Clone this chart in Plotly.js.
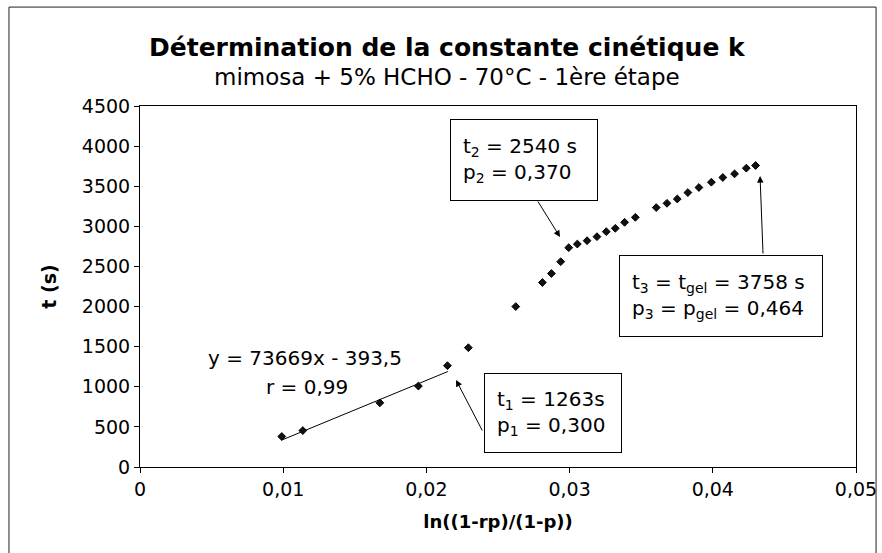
<!DOCTYPE html>
<html>
<head>
<meta charset="utf-8">
<script src="https://cdn.plot.ly/plotly-3.0.1.min.js"></script>
<style>html,body{margin:0;padding:0;background:#fff;}#chart{width:882px;height:553px;}</style>
</head>
<body>
<div id="chart"></div>
<script>
// Data
const lnRatio = [0.0099, 0.01137, 0.01675, 0.01944, 0.02147, 0.02293, 0.02624, 0.0281, 0.02873, 0.02938,
  0.02994, 0.03054, 0.03122, 0.03191, 0.03256, 0.03319, 0.03384, 0.03459, 0.03605, 0.0368,
  0.03752, 0.03826, 0.03903, 0.0399, 0.0407, 0.04152, 0.04234, 0.04299];
const timeS = [380, 454, 800, 1009, 1263, 1487, 2000, 2300, 2412, 2559,
  2734, 2779, 2821, 2871, 2934, 2975, 3050, 3112, 3234, 3287,
  3341, 3421, 3484, 3550, 3609, 3654, 3725, 3758];
const fitSlope = 73669;
const fitIntercept = -393.5;
const fitRange = [0.0099, 0.0215];
const xTicks = [0, 0.01, 0.02, 0.03, 0.04, 0.05];
const xTickText = ["0", "0,01", "0,02", "0,03", "0,04", "0,05"];
const yTicks = [0, 500, 1000, 1500, 2000, 2500, 3000, 3500, 4000, 4500];
const titleLine1 = "Détermination de la constante cinétique k";
const titleLine2 = "mimosa + 5% HCHO - 70°C - 1ère étape";

const F = "DejaVu Sans, Arial, sans-serif";
const fitY = fitRange.map(x => fitSlope * x + fitIntercept);

const traces = [
  {x: fitRange, y: fitY, type: 'scatter', mode: 'lines', line: {color: '#000', width: 1}, hoverinfo: 'skip', showlegend: false},
  {x: lnRatio, y: timeS, type: 'scatter', mode: 'markers',
   marker: {symbol: 'diamond', size: 6, color: '#111', line: {color: '#000', width: 1}}, showlegend: false}
];

const boxFont = {family: F, size: 20, color: '#000'};
const layout = {
  width: 882, height: 553,
  margin: {l: 140, r: 26, t: 106, b: 86},
  paper_bgcolor: '#fff', plot_bgcolor: '#fff',
  separators: ', ',
  font: {family: F, color: '#000'},
  xaxis: {
    range: [0, 0.05], tickvals: xTicks, ticktext: xTickText,
    showline: true, mirror: true, linecolor: '#000', linewidth: 1,
    ticks: 'outside', ticklen: 5, tickcolor: '#000',
    showgrid: false, zeroline: false,
    tickfont: {family: F, size: 19, color: '#000'},
    title: {text: "<b>ln((1-rp)/(1-p))</b>", font: {family: F, size: 18, color: '#000'}, standoff: 16}
  },
  yaxis: {
    range: [0, 4500], tickvals: yTicks,
    showline: true, mirror: true, linecolor: '#000', linewidth: 1,
    ticks: 'outside', ticklen: 5, tickcolor: '#000',
    showgrid: false, zeroline: false,
    tickfont: {family: F, size: 19, color: '#000'},
    title: {text: "<b>t (s)</b>", font: {family: F, size: 19, color: '#000'}, standoff: 20}
  },
  shapes: [
    {type: 'rect', xref: 'paper', yref: 'paper', x0: -0.183, x1: 1.028, y0: -0.25, y1: 1.274,
     line: {color: '#222', width: 1}, fillcolor: 'rgba(0,0,0,0)', layer: 'below'}
  ],
  annotations: [
    // title lines
    {x: 0.4288, y: 1.163, xref: 'paper', yref: 'paper', xanchor: 'center', yanchor: 'middle', showarrow: false,
     text: "<b>" + titleLine1 + "</b>", font: {family: F, size: 25, color: '#000'}},
    {x: 0.4288, y: 1.080, xref: 'paper', yref: 'paper', xanchor: 'center', yanchor: 'middle', showarrow: false,
     text: titleLine2, font: {family: F, size: 23, color: '#000'}},
    // equation
    {x: 0.01152, y: 1359, xref: 'x', yref: 'y', text: "y = 73669x - 393,5", showarrow: false, font: {family: F, size: 20, color: '#000'}},
    {x: 0.01166, y: 997, xref: 'x', yref: 'y', text: "r = 0,99", showarrow: false, font: {family: F, size: 20, color: '#000'}},
    // arrows
    {x: 0.02207, y: 1085, xref: 'x', yref: 'y', text: '', showarrow: true, ax: 27, ay: 52, arrowhead: 2, arrowsize: 1.3, arrowwidth: 1, arrowcolor: '#000'},
    {x: 0.02933, y: 2867, xref: 'x', yref: 'y', text: '', showarrow: true, ax: -23, ay: -37, arrowhead: 2, arrowsize: 1.3, arrowwidth: 1, arrowcolor: '#000'},
    {x: 0.0433, y: 3627, xref: 'x', yref: 'y', text: '', showarrow: true, ax: 3, ay: 79, arrowhead: 2, arrowsize: 1.3, arrowwidth: 1, arrowcolor: '#000'},
    // boxes
    {x: 0.02884, y: 673, xref: 'x', yref: 'y', xanchor: 'center', yanchor: 'middle', showarrow: false,
     text: "t<sub>1</sub> = 1263s<br>p<sub>1</sub> = 0,300", align: 'left', width: 112, height: 54,
     borderpad: 12, bordercolor: '#000', borderwidth: 1, bgcolor: '#fff', font: boxFont},
    {x: 0.02682, y: 3827, xref: 'x', yref: 'y', xanchor: 'center', yanchor: 'middle', showarrow: false,
     text: "t<sub>2</sub> = 2540 s<br>p<sub>2</sub> = 0,370", align: 'left', width: 122, height: 56,
     borderpad: 12, bordercolor: '#000', borderwidth: 1, bgcolor: '#fff', font: boxFont},
    {x: 0.04057, y: 2131, xref: 'x', yref: 'y', xanchor: 'center', yanchor: 'middle', showarrow: false,
     text: "t<sub>3</sub> = t<sub>gel</sub> = 3758 s<br>p<sub>3</sub> = p<sub>gel</sub> = 0,464", align: 'left', width: 178, height: 56,
     borderpad: 12, bordercolor: '#000', borderwidth: 1, bgcolor: '#fff', font: boxFont}
  ]
};

Plotly.newPlot('chart', traces, layout, {displayModeBar: false, staticPlot: true});
</script>
</body>
</html>
